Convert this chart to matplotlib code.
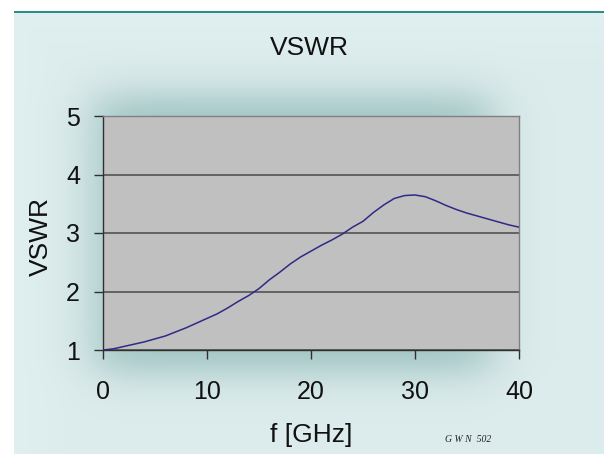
import math

import matplotlib
matplotlib.use("Agg")
import matplotlib.pyplot as plt
import numpy as np


# values
freq_ghz = [0, 1, 2, 3, 4, 5, 6, 7, 8, 9, 10, 11, 12, 13, 14, 15, 16, 17, 18, 19, 20,
            21, 22, 23, 24, 25, 26, 27, 28, 29, 30, 31, 32, 33, 34, 35, 36, 37, 38, 39, 40]
vswr = [1.00, 1.02, 1.06, 1.10, 1.14, 1.19, 1.24, 1.31, 1.38, 1.46, 1.54, 1.62, 1.72,
        1.83, 1.93, 2.05, 2.20, 2.33, 2.47, 2.59, 2.69, 2.79, 2.88, 2.98, 3.10, 3.20,
        3.35, 3.48, 3.59, 3.64, 3.65, 3.62, 3.55, 3.47, 3.40, 3.34, 3.29, 3.24, 3.19,
        3.14, 3.10]
x_ticks = [0, 10, 20, 30, 40]
y_ticks = [1, 2, 3, 4, 5]

W, H = 604, 454


def background():
    # slide-like panel with a soft teal shadow behind the plot area
    xs = np.arange(W)[None, :]
    ys = np.arange(H)[:, None]

    def band(v, a, b, w):
        return 0.5 * (np.tanh((v - a) / w) - np.tanh((v - b) / w))

    shadow = band(xs, 95, 490, 28) * band(ys, 95, 372, 22)
    base = np.array([0.878, 0.937, 0.937])
    dark = np.array([0.64, 0.78, 0.78])
    img = base[None, None, :] * (1 - shadow[..., None]) + dark[None, None, :] * shadow[..., None]
    # slightly brighter near panel edges
    edge = np.clip(np.minimum(xs - 14, ys - 11) / 60.0, 0, 1)
    img = img * (0.985 + 0.015 * (1 - edge[..., None]))
    img = np.clip(img, 0, 1)
    outside = (xs < 14) | (ys < 11)
    img[np.broadcast_to(outside, (H, W))] = 1.0
    img[11:13, 14:, :] = np.array([0.17, 0.55, 0.54])
    return img


def main() -> None:
    plt.rcParams.update({
        "font.family": ["Liberation Sans", "DejaVu Sans"],
    })
    fig = plt.figure(figsize=(W / 100, H / 100), dpi=100)

    bg = fig.add_axes([0, 0, 1, 1], zorder=-5)
    bg.imshow(background(), aspect="auto", interpolation="bilinear", extent=(0, W, H, 0))
    bg.set_xlim(0, W)
    bg.set_ylim(H, 0)
    bg.axis("off")

    ax = fig.add_axes([103 / W, 1 - 350 / H, (519 - 103) / W, (350 - 116) / H])
    ax.set_facecolor("#c0c0c0")
    ax.plot(freq_ghz, vswr, color="#2e2a86", linewidth=1.1, zorder=3)

    ax.set_xlim(0, 40)
    ax.set_ylim(1, 5)
    ax.set_xticks(x_ticks)
    ax.set_yticks(y_ticks)
    ax.yaxis.grid(True, color="#4a4a4a", linewidth=1.1)
    ax.set_axisbelow(True)
    for side in ("top", "right"):
        ax.spines[side].set_color("#808080")
        ax.spines[side].set_linewidth(1.0)
    for side in ("left", "bottom"):
        ax.spines[side].set_color("#303030")
        ax.spines[side].set_linewidth(1.0)
    ax.tick_params(axis="both", direction="out", length=6.5, width=1.0,
                   color="#303030", labelsize=18, labelcolor="#111111")
    ax.tick_params(axis="x", pad=15)
    ax.tick_params(axis="y", pad=10)

    fig.text(309 / W, 1 - 48 / H, "VSWR", fontsize=19, ha="center", va="center", color="#111111")
    fig.text(41 / W, 1 - 237 / H, "VSWR", fontsize=19, ha="center", va="center",
             rotation=90, color="#111111")
    fig.text(311 / W, 1 - 435 / H, "f [GHz]", fontsize=19, ha="center", va="center",
             color="#111111")
    fig.text(468 / W, 1 - 439 / H, "G W N  502", fontsize=7, ha="center", va="center",
             style="italic", family="Liberation Serif", color="#222222")

    fig.savefig("out.png", dpi=100)
    plt.close(fig)


if __name__ == "__main__":
    main()
